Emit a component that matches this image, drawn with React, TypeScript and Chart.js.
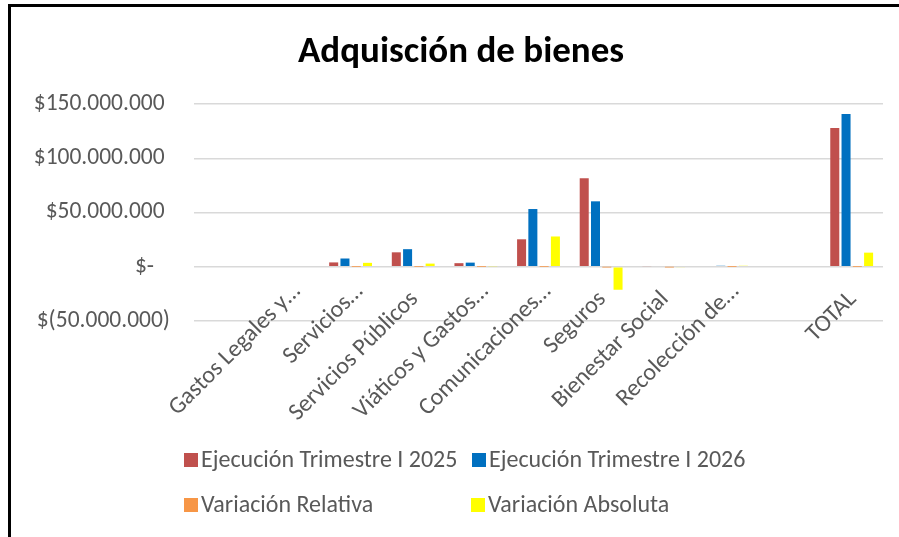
import React, { useEffect, useRef } from "react";
import { Chart, registerables } from "chart.js";

Chart.register(...registerables);

const chartTitle = "Adquisción de bienes";
const categories = [
  "",
  "Gastos Legales y…",
  "Servicios…",
  "Servicios Públicos",
  "Viáticos y Gastos…",
  "Comunicaciones…",
  "Seguros",
  "Bienestar Social",
  "Recolección de…",
  "",
  "TOTAL",
];
const seriesNames = [
  "Ejecución Trimestre I 2025",
  "Ejecución Trimestre I 2026",
  "Variación Relativa",
  "Variación Absoluta",
];
const seriesColors = ["#C0504D", "#0070C0", "#F79646", "#FFFF00"];
const ejecucion2025 = [null, 0, 4.0e6, 13.3e6, 3.3e6, 25.3e6, 81.5e6, 0.6e6, 0, null, 127.8e6];
const ejecucion2026 = [null, 0, 7.6e6, 16.2e6, 3.8e6, 53.2e6, 60.3e6, 0, 0.9e6, null, 140.8e6];
const variacionRelativa = [null, 0, 0.9, 0.22, 0.15, 1.1, -0.26, -1, 1, null, 0.1];
const variacionAbsoluta = [null, 0, 3.6e6, 2.9e6, 0.5e6, 27.9e6, -21.2e6, -0.6e6, 0.9e6, null, 13.0e6];
const yMin = -50e6;
const yMax = 150e6;
const yStep = 50e6;

const FONT = "Carlito, Lato, 'Open Sans', sans-serif";
const TEXT = "#595959";

function fmt(n: number): string {
  return Math.round(n).toString().replace(/\B(?=(\d{3})+(?!\d))/g, ".");
}

const overlayPlugin = {
  id: "overlay",
  afterDraw(chart: any) {
    const ctx = chart.ctx as CanvasRenderingContext2D;
    ctx.save();
    ctx.fillStyle = "#000";
    ctx.font = `bold 37px ${FONT}`;
    ctx.textAlign = "center";
    ctx.textBaseline = "alphabetic";
    ctx.fillText(chartTitle, 461, 62);

    const slots = [
      { x: 184, y: 460 },
      { x: 472, y: 460 },
      { x: 184, y: 505 },
      { x: 471, y: 505 },
    ];
    ctx.font = `24px ${FONT}`;
    ctx.textAlign = "left";
    ctx.textBaseline = "middle";
    chart.data.datasets.forEach((ds: any, i: number) => {
      const s = slots[i];
      ctx.fillStyle = ds.backgroundColor;
      ctx.fillRect(s.x, s.y - 7, 14, 14);
      ctx.fillStyle = TEXT;
      ctx.fillText(ds.label, s.x + 17, s.y + 1);
    });
    ctx.restore();
  },
};

export default function App() {
  const ref = useRef<HTMLCanvasElement | null>(null);
  useEffect(() => {
    if (!ref.current) return;
    const series = [ejecucion2025, ejecucion2026, variacionRelativa, variacionAbsoluta];
    const chart = new Chart(ref.current, {
      type: "bar",
      data: {
        labels: categories,
        datasets: series.map((d, i) => ({
          label: seriesNames[i],
          data: d,
          backgroundColor: seriesColors[i],
          borderWidth: 0,
          inflateAmount: 0,
          categoryPercentage: 0.72,
          barPercentage: 0.8,
        })),
      },
      options: {
        animation: false,
        responsive: false,
        maintainAspectRatio: false,
        layout: { padding: { left: 0, right: 16, top: 104, bottom: 216 } },
        plugins: {
          legend: { display: false },
          title: { display: false },
          tooltip: { enabled: false },
        },
        scales: {
          x: {
            position: { y: 0 } as any,
            grid: { display: false, drawTicks: false },
            border: { display: false },
            ticks: {
              autoSkip: false,
              minRotation: 45,
              maxRotation: 45,
              color: TEXT,
              font: { family: FONT, size: 24 },
              padding: 11,
              labelOffset: 9,
              callback: function (this: any, v: any) {
                const label = String(this.getLabelForValue(v));
                if (!label || label.endsWith("…")) return label;
                return label + "  ";
              },
            },
          },
          y: {
            min: yMin,
            max: yMax,
            grid: { color: "#D9D9D9", lineWidth: 1.5, drawTicks: false },
            border: { display: false },
            ticks: {
              stepSize: yStep,
              color: TEXT,
              font: { family: FONT, size: 23.5 },
              padding: 24,
              callback: (v: any) => {
                const n = Number(v);
                if (n === 0) return "$-   ";
                if (n < 0) return "$(" + fmt(-n) + ")";
                return "$" + fmt(n) + " ";
              },
            },
            afterFit: (scale: any) => {
              scale.width = 194;
            },
          },
        },
      },
      plugins: [overlayPlugin],
    });
    return () => chart.destroy();
  }, []);

  return (
    <div
      style={{
        position: "fixed",
        left: 0,
        top: 0,
        width: 899,
        height: 537,
        overflow: "hidden",
        background: "#fff",
      }}
    >
      <div
        style={{
          position: "absolute",
          left: 8,
          top: 4,
          width: 1000,
          height: 1000,
          border: "3px solid #000",
          boxSizing: "border-box",
        }}
      />
      <canvas
        ref={ref}
        width={899}
        height={537}
        style={{ position: "absolute", left: 0, top: 0, width: 899, height: 537 }}
      />
    </div>
  );
}
